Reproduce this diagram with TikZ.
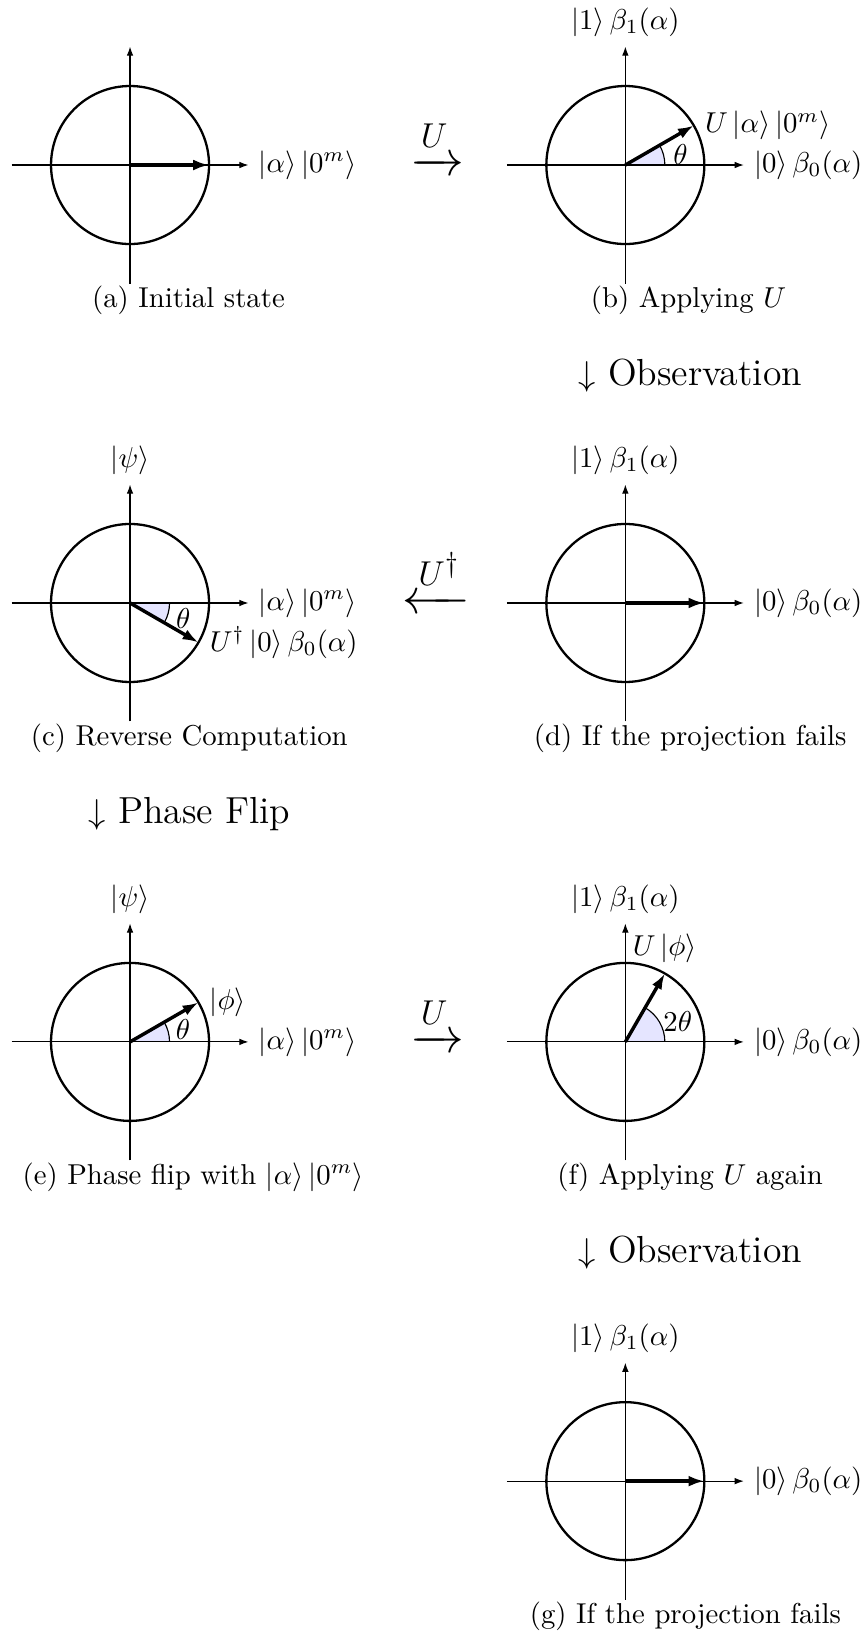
\documentclass[tikz,border=0pt]{standalone}
\usepackage{amsmath}
\usetikzlibrary{arrows.meta}
\newcommand{\ket}[1]{\left|#1\right\rangle}
\tikzset{
  axis/.style={-{Latex[length=3.2pt,width=2.3pt]}},
  circ/.style={thick},
  statevec/.style={very thick,-{Latex[length=5.5pt,width=3.8pt]}},
  anglefill/.style={fill=blue!10},
  bigstep/.style={font=\fontsize{13.1}{15.5}\selectfont,anchor=base west,inner sep=0pt},
  opnode/.style={font=\LARGE,anchor=base},
  caption/.style={anchor=base},
}
\begin{document}
\begin{tikzpicture}[x=27.48pt,y=27.48pt]
\useasboundingbox (-1.646,-18.671) rectangle (9.329,2.089);
% (a)
\begin{scope}
  \draw[axis] (180:1.5)--(0:1.5) node[right] (xa) {$\ket{\alpha}\ket{0^m}$};
  \draw[axis] (-90:1.5)--(90:1.5);
  \draw[circ] (0,0) circle (1);
  \draw[statevec] (0,0)--(0:1);
  \node[caption] (capa) at (0.74,-1.8) {(a) Initial state};
\end{scope}
\node[opnode] (ua) at (3.886,-0.13) {$\xrightarrow{U}$};
% (b)
\begin{scope}[shift={(6.27,0)}]
  \fill[anglefill] (0,0)--(0:0.5) arc (0:30:0.5)--cycle;
  \draw (0:0.5) arc (0:30:0.5);
  \draw[axis] (180:1.5)--(0:1.5) node[right] (xb) {$\ket{0}\beta_0(\alpha)$};
  \draw[axis] (-90:1.5)--(90:1.5) node[above] (yb) {$\ket{1}\beta_1(\alpha)$};
  \draw[circ] (0,0) circle (1);
  \draw[statevec] (0,0)--(30:1) node[right] (vb) {$U\ket{\alpha}\ket{0^m}$};
  \node (thb) at (11:0.71) {$\theta$};
  \node[caption] (capb) at (0.8,-1.8) {(b) Applying $U$};
  \node[bigstep] (obsa) at (-0.6,-2.79) {$\downarrow$ Observation};
\end{scope}
% (c)
\begin{scope}[shift={(0,-5.544)}]
  \fill[anglefill] (0,0)--(0:0.5) arc (0:-30:0.5)--cycle;
  \draw (0:0.5) arc (0:-30:0.5);
  \draw[axis] (180:1.5)--(0:1.5) node[right] (xc) {$\ket{\alpha}\ket{0^m}$};
  \draw[axis] (-90:1.5)--(90:1.5) node[above] (yc) {$\ket{\psi}$};
  \draw[circ] (0,0) circle (1);
  \draw[statevec] (0,0)--(-30:1) node[right] (vc) {$U^\dagger\ket{0}\beta_0(\alpha)$};
  \node (thc) at (-16:0.7) {$\theta$};
  \node[caption] (capc) at (0.75,-1.8) {(c) Reverse Computation};
  \node[bigstep] (flip) at (-0.532,-2.785) {$\downarrow$ Phase Flip};
\end{scope}
\node[opnode] (ud) at (3.873,-5.674) {$\xleftarrow{U^\dagger}$};
% (d)
\begin{scope}[shift={(6.27,-5.544)}]
  \draw[axis] (180:1.5)--(0:1.5) node[right] (xd) {$\ket{0}\beta_0(\alpha)$};
  \draw[axis] (-90:1.5)--(90:1.5) node[above] (yd) {$\ket{1}\beta_1(\alpha)$};
  \draw[circ] (0,0) circle (1);
  \draw[statevec] (0,0)--(0:1);
  \node[caption] (capd) at (0.82,-1.8) {(d) If the projection fails};
\end{scope}
% (e)
\begin{scope}[shift={(0,-11.1)}]
  \fill[anglefill] (0,0)--(0:0.5) arc (0:30:0.5)--cycle;
  \draw (0:0.5) arc (0:30:0.5);
  \draw[axis] (180:1.5)--(0:1.5) node[right] (xe) {$\ket{\alpha}\ket{0^m}$};
  \draw[axis] (-90:1.5)--(90:1.5) node[above] (ye) {$\ket{\psi}$};
  \draw[circ] (0,0) circle (1);
  \draw[statevec] (0,0)--(30:1) node[right] (ve) {$\ket{\phi}$};
  \node (the) at (13:0.69) {$\theta$};
  \node[caption] (cape) at (0.8,-1.8) {(e) Phase flip with $\ket{\alpha}\ket{0^m}$};
\end{scope}
\node[opnode] (uf) at (3.886,-11.23) {$\xrightarrow{U}$};
% (f)
\begin{scope}[shift={(6.27,-11.1)}]
  \fill[anglefill] (0,0)--(0:0.5) arc (0:60:0.5)--cycle;
  \draw (0:0.5) arc (0:60:0.5);
  \draw[axis] (180:1.5)--(0:1.5) node[right] (xf) {$\ket{0}\beta_0(\alpha)$};
  \draw[axis] (-90:1.5)--(90:1.5) node[above] (yf) {$\ket{1}\beta_1(\alpha)$};
  \draw[circ] (0,0) circle (1);
  \draw[statevec] (0,0)--(60:1) node[above] (vf) {$U\ket{\phi}$};
  \node (thf) at (21:0.71) {$2\theta$};
  \node[caption] (capf) at (0.82,-1.8) {(f) Applying $U$ again};
  \node[bigstep] (obsb) at (-0.6,-2.79) {$\downarrow$ Observation};
\end{scope}
% (g)
\begin{scope}[shift={(6.27,-16.66)}]
  \draw[axis] (180:1.5)--(0:1.5) node[right] (xg) {$\ket{0}\beta_0(\alpha)$};
  \draw[axis] (-90:1.5)--(90:1.5) node[above] (yg) {$\ket{1}\beta_1(\alpha)$};
  \draw[circ] (0,0) circle (1);
  \draw[statevec] (0,0)--(0:1);
  \node[caption] (capg) at (0.76,-1.8) {(g) If the projection fails};
\end{scope}
\end{tikzpicture}
\end{document}
